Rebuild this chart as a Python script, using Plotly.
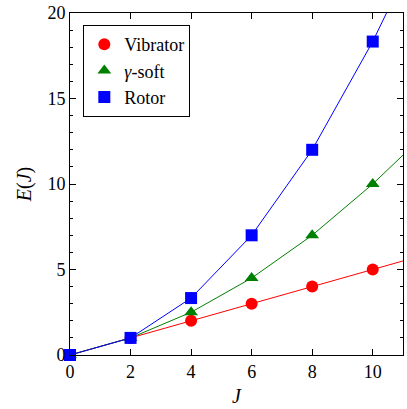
import plotly.graph_objects as go

J = [0, 2, 4, 6, 8, 10]
vibrator = [0, 1, 2, 3, 4, 5]
gsoft = [0, 1, 2.5, 4.5, 7, 10]
rotor = [0, 1, 3.33, 7, 12, 18.33]

# line continuation to the right edge
J_line = J + [11]
vibrator_line = vibrator + [5.5]
gsoft_line = gsoft + [11.69]
rotor_line = rotor + [22]

font = "Liberation Serif"
fig = go.Figure()

series = [
    ("Vibrator", vibrator, vibrator_line, "red", "circle"),
    ("<i>γ</i>-soft", gsoft, gsoft_line, "green", "triangle-up"),
    ("Rotor", rotor, rotor_line, "blue", "square"),
]
for name, v, vl, c, sym in series:
    fig.add_trace(go.Scatter(x=J_line, y=vl, mode="lines", line=dict(color=c, width=1),
                             showlegend=False, hoverinfo="skip", cliponaxis=True))
for name, v, vl, c, sym in series:
    fig.add_trace(go.Scatter(x=J, y=v, mode="markers", name=name,
                             marker=dict(color=c, symbol=sym, size=12), cliponaxis=False))

fig.update_layout(
    width=407, height=409,
    margin=dict(l=70, r=3, t=9, b=54),
    plot_bgcolor="white", paper_bgcolor="white",
    showlegend=True,
    legend=dict(x=0.04, y=0.965, xanchor="left", yanchor="top",
                bordercolor="black", borderwidth=1, bgcolor="white",
                font=dict(family=font, size=18, color="black"), itemsizing="constant",
                tracegroupgap=0),
    xaxis=dict(range=[0, 11], tickvals=[0, 2, 4, 6, 8, 10], ticks="inside", ticklen=6,
               tickcolor="black", showline=True, linecolor="black", linewidth=1, mirror="ticks",
               showgrid=False, zeroline=False, tickfont=dict(family=font, size=18, color="black"),
               title=dict(text="<i>J</i>", standoff=8, font=dict(family=font, size=20, color="black")),
               minor=dict(ticks="", showgrid=False)),
    yaxis=dict(range=[0, 20], tickvals=[0, 5, 10, 15, 20], ticks="inside", ticklen=6,
               tickcolor="black", showline=True, linecolor="black", linewidth=1, mirror="ticks",
               showgrid=False, zeroline=False, tickfont=dict(family=font, size=18, color="black"),
               ticklabeloverflow="allow",
               title=dict(text="<i>E</i>(<i>J</i>)", standoff=10,
                          font=dict(family=font, size=20, color="black")),
               minor=dict(dtick=1, ticks="inside", ticklen=3, tickcolor="black", showgrid=False)),
)
fig.write_html("out.html")
